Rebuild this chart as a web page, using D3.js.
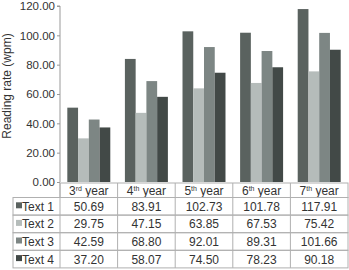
<!DOCTYPE html>
<html>
<head>
<meta charset="utf-8">
<script src="https://cdn.jsdelivr.net/npm/d3@7"></script>
<style>
body { margin: 0; background: #fff; }
text { font-family: "Liberation Sans", Arial, sans-serif; fill: #333; }
</style>
</head>
<body>
<script>
var years = ["3", "4", "5", "6", "7"];
var yearSup = ["rd", "th", "th", "th", "th"];
var seriesNames = ["Text 1", "Text 2", "Text 3", "Text 4"];
var seriesColors = ["#5a625f", "#b5bcba", "#7d8684", "#424947"];
var text1 = [50.69, 83.91, 102.73, 101.78, 117.91];
var text2 = [29.75, 47.15, 63.85, 67.53, 75.42];
var text3 = [42.59, 68.80, 92.01, 89.31, 101.66];
var text4 = [37.20, 58.07, 74.50, 78.23, 90.18];
var yTicks = [0, 20, 40, 60, 80, 100, 120];

var series = [text1, text2, text3, text4];
var width = 349, height = 270;
var plot = {left: 60, right: 348, top: 6, bottom: 182};

var svg = d3.select("body").append("svg")
    .attr("width", width)
    .attr("height", height);

var x0 = d3.scaleBand().domain(years).range([plot.left, plot.right]).paddingInner(0).paddingOuter(0);
var x1 = d3.scaleBand().domain(d3.range(4)).range([0, x0.bandwidth()]).paddingOuter(0.68);
var y = d3.scaleLinear().domain([0, 120]).range([plot.bottom, plot.top]);

// y axis
var yAxis = svg.append("g")
    .attr("transform", "translate(" + plot.left + ",0)")
    .call(d3.axisLeft(y).tickValues(yTicks).tickSize(3).tickFormat(d3.format(".2f")));
yAxis.select(".domain").attr("stroke", "#999").attr("d", "M-3," + y(120) + "H0V" + plot.bottom);
yAxis.selectAll(".tick line").attr("stroke", "#999");
yAxis.selectAll(".tick text")
    .attr("x", -5)
    .style("font-family", "Liberation Sans, Arial, sans-serif")
    .style("font-size", "11.5px")
    .attr("fill", "#444");

svg.append("text")
    .attr("transform", "translate(11,86) rotate(-90)")
    .attr("text-anchor", "middle")
    .style("font-size", "12px")
    .attr("fill", "#444")
    .text("Reading rate (wpm)");

// bars
var groups = svg.selectAll(".grp")
    .data(years)
    .enter().append("g")
    .attr("transform", function(d) { return "translate(" + x0(d) + ",0)"; });

groups.selectAll("rect")
    .data(function(d, i) { return series.map(function(s, k) { return {k: k, v: s[i]}; }); })
    .enter().append("rect")
    .attr("x", function(d) { return x1(d.k); })
    .attr("width", x1.bandwidth())
    .attr("y", function(d) { return y(d.v); })
    .attr("height", function(d) { return plot.bottom - y(d.v); })
    .attr("fill", function(d) { return seriesColors[d.k]; });

// table
var headTop = 183, headH = 14.5, rowH = 17.6, labelLeft = 13;
var border = "#b0b0b0";
var tbl = svg.append("g");

// header row
tbl.append("rect")
    .attr("x", plot.left).attr("y", headTop)
    .attr("width", plot.right - plot.left).attr("height", headH)
    .attr("fill", "none").attr("stroke", border);

var head = tbl.selectAll(".head")
    .data(years)
    .enter().append("text")
    .attr("x", function(d) { return x0(d) + x0.bandwidth() / 2; })
    .attr("y", headTop + 11.5)
    .attr("text-anchor", "middle")
    .style("font-size", "12px");
head.append("tspan").text(function(d) { return d; });
head.append("tspan")
    .attr("dy", -4)
    .style("font-size", "7px")
    .text(function(d, i) { return yearSup[i]; });
head.append("tspan").attr("dy", 4).text(" year");

// data rows
seriesNames.forEach(function(name, k) {
    var top = headTop + headH + k * rowH;
    tbl.append("rect")
        .attr("x", labelLeft).attr("y", top)
        .attr("width", plot.right - labelLeft).attr("height", rowH)
        .attr("fill", "none").attr("stroke", border);
    tbl.append("rect")
        .attr("x", labelLeft + 3).attr("y", top + rowH / 2 - 4)
        .attr("width", 6).attr("height", 6)
        .attr("fill", seriesColors[k]);
    tbl.append("text")
        .attr("x", labelLeft + 9).attr("y", top + rowH / 2 + 4.5)
        .style("font-size", "12px")
        .text(name);
    tbl.selectAll(".v" + k)
        .data(series[k])
        .enter().append("text")
        .attr("x", function(d, i) { return x0(years[i]) + x0.bandwidth() / 2; })
        .attr("y", top + rowH / 2 + 4.5)
        .attr("text-anchor", "middle")
        .style("font-size", "12px")
        .text(function(d) { return d3.format(".2f")(d); });
});

// column separators
tbl.selectAll(".col")
    .data(years)
    .enter().append("line")
    .attr("x1", function(d) { return x0(d); })
    .attr("x2", function(d) { return x0(d); })
    .attr("y1", headTop)
    .attr("y2", headTop + headH + 4 * rowH)
    .attr("stroke", border);
</script>
</body>
</html>
